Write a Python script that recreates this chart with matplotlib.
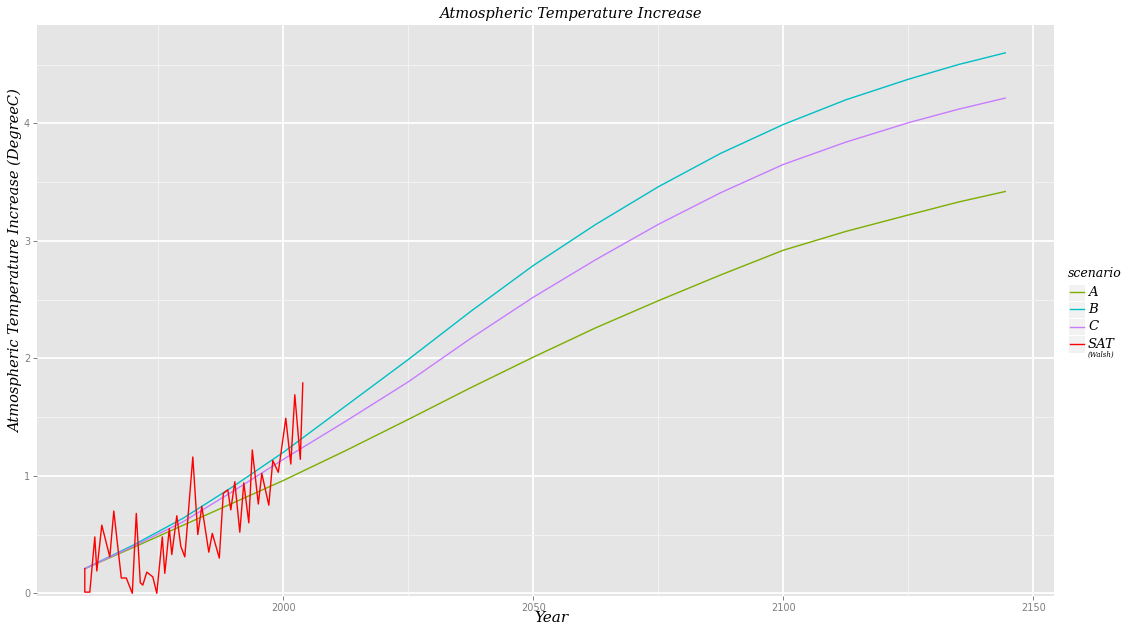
import matplotlib.pyplot as plt
from matplotlib.lines import Line2D
from matplotlib.patches import Rectangle
from matplotlib.ticker import MultipleLocator

# --- data ---
sat_years = [1960.3, 1960.3, 1961.3, 1962.3, 1962.7, 1963.7, 1965.3, 1966.1, 1967.6,
             1968.6, 1969.8, 1970.6, 1971.4, 1971.9, 1972.7, 1973.9, 1974.7, 1975.8,
             1976.3, 1977.2, 1977.7, 1978.7, 1979.5, 1980.3, 1981.9, 1982.9, 1983.7,
             1985.1, 1985.8, 1987.2, 1988.0, 1988.9, 1989.5, 1990.3, 1991.3, 1992.1,
             1993.1, 1993.8, 1995.0, 1995.7, 1997.1, 1997.9, 1999.0, 2000.5, 2001.5,
             2002.3, 2003.4, 2003.9]
sat_values = [0.21, 0.01, 0.01, 0.48, 0.19, 0.58, 0.31, 0.70, 0.13,
              0.13, 0.00, 0.68, 0.09, 0.07, 0.18, 0.14, 0.00, 0.48,
              0.17, 0.55, 0.33, 0.66, 0.40, 0.31, 1.16, 0.50, 0.74,
              0.35, 0.51, 0.30, 0.85, 0.88, 0.71, 0.95, 0.52, 0.94,
              0.60, 1.22, 0.76, 1.02, 0.75, 1.13, 1.03, 1.49, 1.10,
              1.69, 1.14, 1.79]

scenario_years = [1960.3, 1970, 1980, 1990, 2000, 2012.5, 2025, 2037.5, 2050, 2062.5,
                  2075, 2087.5, 2100, 2112.5, 2125, 2135, 2144.4]
scenario_a = [0.21, 0.39, 0.58, 0.77, 0.96, 1.215, 1.48, 1.75, 2.01, 2.26,
              2.49, 2.71, 2.92, 3.08, 3.22, 3.33, 3.42]
scenario_b = [0.21, 0.41, 0.64, 0.91, 1.20, 1.595, 1.99, 2.40, 2.79, 3.14,
              3.46, 3.745, 3.99, 4.20, 4.375, 4.50, 4.60]
scenario_c = [0.21, 0.40, 0.61, 0.87, 1.14, 1.465, 1.80, 2.17, 2.52, 2.84,
              3.14, 3.41, 3.65, 3.84, 4.005, 4.12, 4.215]

scenario_names = ["A", "B", "C", "SAT"]
colors = ["#7CAE00", "#00BFC4", "#C77CFF", "#FF0000"]

serif = ["DejaVu Serif"]

fig = plt.figure(figsize=(11.28, 6.25), dpi=100)
ax = fig.add_axes([37 / 1128, 1 - 596 / 625, (1054 - 37) / 1128, (596 - 25) / 625])
ax.set_facecolor("#E5E5E5")
for s in ax.spines.values():
    s.set_visible(False)

ax.plot(scenario_years, scenario_a, color=colors[0], lw=1.0)
ax.plot(scenario_years, scenario_b, color=colors[1], lw=1.0)
ax.plot(scenario_years, scenario_c, color=colors[2], lw=1.0)
ax.plot(sat_years, sat_values, color=colors[3], lw=1.0)

ax.set_xlim(1950.74, 2154.14)
ax.set_ylim(-0.023, 4.837)
ax.xaxis.set_major_locator(MultipleLocator(50))
ax.xaxis.set_minor_locator(MultipleLocator(25))
ax.yaxis.set_major_locator(MultipleLocator(1))
ax.yaxis.set_minor_locator(MultipleLocator(0.5))
ax.grid(which="major", color="white", lw=1.3)
ax.grid(which="minor", color="#F2F2F2", lw=0.8)
ax.set_axisbelow(True)
ax.tick_params(which="major", length=3, width=0.7, color="#7F7F7F",
               labelcolor="#7F7F7F", labelsize=7, pad=2)
ax.tick_params(which="minor", length=0)

ax.set_title("Atmospheric Temperature Increase", family=serif, style="italic",
             fontsize=10.5, x=0.524, pad=5)
ax.set_xlabel("Year", family=serif, style="italic", fontsize=11)
ax.xaxis.set_label_coords(0.506, -0.038)
ax.xaxis.label.set_va("center")
ax.set_ylabel("Atmospheric Temperature Increase (DegreeC)", family=serif,
              style="italic", fontsize=10.5)
ax.yaxis.set_label_coords(-0.0206, 0.587)
ax.yaxis.label.set_va("center")

# legend drawn in figure pixels, ggplot style
W, H = 1128, 625
fig.text(1068 / W, 1 - 273 / H, "scenario", family=serif, style="italic",
         fontsize=9, va="center", ha="left")
key_top = 283.5
for i, (name, col) in enumerate(zip(scenario_names, colors)):
    y0 = key_top + i * 17.3
    fig.add_artist(Rectangle((1068 / W, 1 - (y0 + 17.3) / H), 17.3 / W, 17.3 / H,
                             transform=fig.transFigure, facecolor="#F2F2F2",
                             edgecolor="white", lw=0.8))
    yc = 1 - (y0 + 8.65) / H
    fig.add_artist(Line2D([1069.5 / W, 1084 / W], [yc, yc], color=col, lw=1.0,
                          transform=fig.transFigure))
    fig.text(1088 / W, yc, name, family=serif, style="italic", fontsize=9.5,
             va="center", ha="left")
fig.text(1088 / W, 1 - 354.5 / H, "(Walsh)", family=serif, style="italic",
         fontsize=5, va="center", ha="left")

fig.savefig("out.png", dpi=100)
